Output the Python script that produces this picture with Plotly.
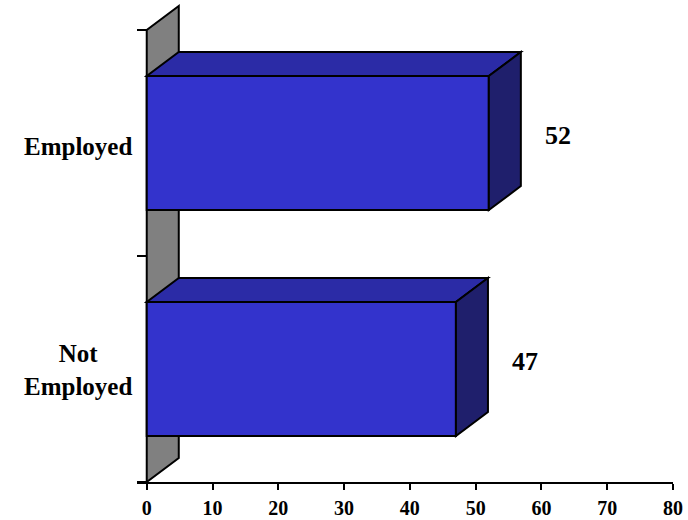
import plotly.graph_objects as go

# Survey split: employment status
categories = ["Not Employed", "Employed"]
values = [47, 52]
x_ticks = [0, 10, 20, 30, 40, 50, 60, 70, 80]

# Styling for the pseudo-3D look
FONT = "Liberation Serif, Times New Roman, serif"
FRONT = "#3333CC"
TOP = "#2B2BA6"
SIDE = "#1F1F6C"
WALL = "#808080"
EDGE = "black"
BAR_W = 0.593          # bar thickness in category units
DEPTH_X = 4.87         # depth offset along the value axis
DEPTH_Y = 0.106        # depth offset along the category axis

ypos = list(range(len(categories)))

fig = go.Figure()
fig.add_trace(go.Bar(
    x=values, y=ypos, orientation="h", width=BAR_W,
    marker=dict(color=FRONT, line=dict(color=EDGE, width=2)),
    hoverinfo="skip", showlegend=False,
))

shapes = []
# back side wall
y_lo, y_hi = ypos[0] - 0.5, ypos[-1] + 0.5
shapes.append(dict(
    type="path", xref="x", yref="y", layer="below",
    path=(f"M 0 {y_lo} L 0 {y_hi} L {DEPTH_X} {y_hi + DEPTH_Y} "
          f"L {DEPTH_X} {y_lo + DEPTH_Y} Z"),
    fillcolor=WALL, line=dict(color=EDGE, width=2),
))

annotations = []
for y, v, name in zip(ypos, values, categories):
    top = y + BAR_W / 2
    bot = y - BAR_W / 2
    # top face
    shapes.append(dict(
        type="path", xref="x", yref="y", layer="above",
        path=(f"M 0 {top} L {v} {top} L {v + DEPTH_X} {top + DEPTH_Y} "
              f"L {DEPTH_X} {top + DEPTH_Y} Z"),
        fillcolor=TOP, line=dict(color=EDGE, width=2),
    ))
    # right end face
    shapes.append(dict(
        type="path", xref="x", yref="y", layer="above",
        path=(f"M {v} {bot} L {v} {top} L {v + DEPTH_X} {top + DEPTH_Y} "
              f"L {v + DEPTH_X} {bot + DEPTH_Y} Z"),
        fillcolor=SIDE, line=dict(color=EDGE, width=2),
    ))
    # value label
    annotations.append(dict(
        x=v + DEPTH_X, y=y, xref="x", yref="y", text=str(v),
        showarrow=False, xanchor="left", xshift=22, yshift=8,
        font=dict(family=FONT, size=26, color="black", weight="bold"),
    ))
    # category label
    label = name.replace("Not ", "Not<br>")
    annotations.append(dict(
        x=0, y=y, xref="paper", yref="y", text=label,
        showarrow=False, xanchor="right", xshift=-3, align="center",
        yshift=-3 if "<br>" not in label else -1,
        font=dict(family=FONT, size=25, color="black", weight="bold"),
    ))

fig.update_layout(
    width=688, height=520,
    margin=dict(l=137, r=15, t=0, b=38),
    paper_bgcolor="white", plot_bgcolor="white",
    shapes=shapes, annotations=annotations,
    xaxis=dict(
        range=[-1.48, 80], tickvals=x_ticks, ticktext=[str(t) for t in x_ticks],
        ticks="outside", ticklen=6, tickwidth=2, tickcolor="black",
        ticklabelstandoff=1,
        showline=True, linewidth=2, linecolor="black",
        showgrid=False, zeroline=False, automargin=False,
        tickfont=dict(family=FONT, size=20, color="black", weight="bold"),
    ),
    yaxis=dict(
        range=[-0.5, -0.5 + 482 / 226], tickvals=ypos, ticktext=["", ""],
        ticks="", showline=False, showgrid=False, zeroline=False,
        automargin=False,
        minor=dict(tick0=-0.5, dtick=1, ticks="inside", ticklen=10,
                   tickwidth=2, tickcolor="black", showgrid=False),
    ),
)

fig.write_html("out.html")
